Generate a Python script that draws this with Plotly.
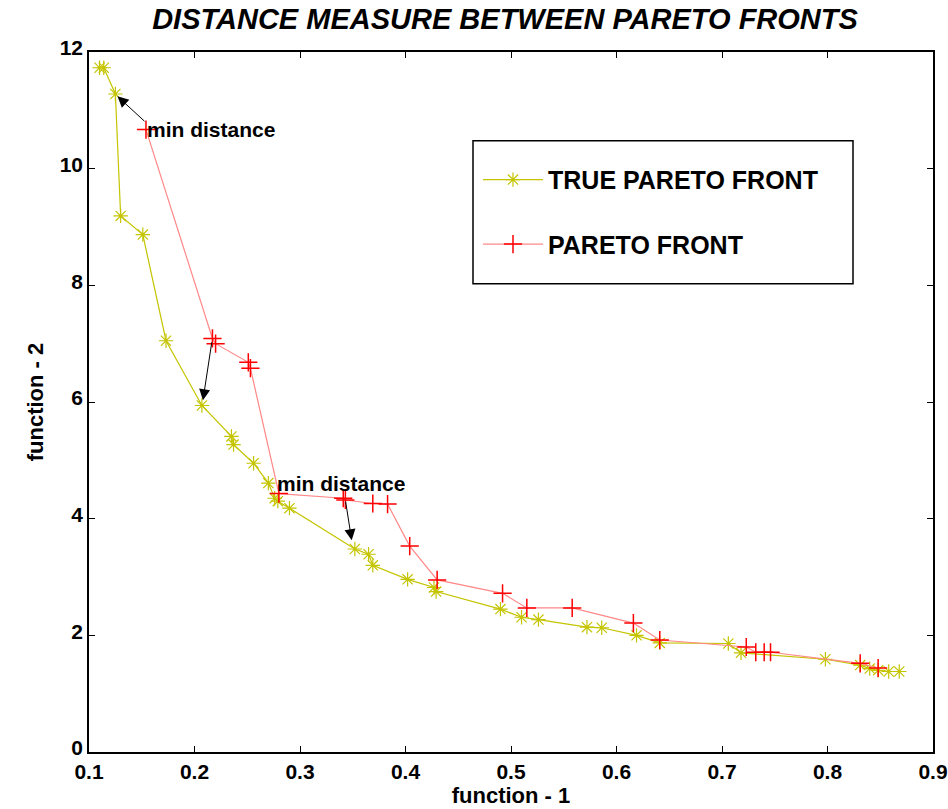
import plotly.graph_objects as go

true_x = [0.110, 0.114, 0.125, 0.130, 0.151, 0.173, 0.207, 0.235, 0.237, 0.256, 0.270, 0.276, 0.279, 0.290,
          0.352, 0.365, 0.369, 0.402, 0.427, 0.429, 0.490, 0.510, 0.526, 0.572, 0.586, 0.619, 0.641,
          0.706, 0.718, 0.798, 0.831, 0.840, 0.848, 0.858, 0.868]
true_y = [11.73, 11.73, 11.28, 9.19, 8.87, 7.05, 5.94, 5.41, 5.27, 4.95, 4.61, 4.35, 4.30, 4.18,
          3.48, 3.39, 3.20, 2.96, 2.82, 2.75, 2.45, 2.31, 2.27, 2.14, 2.13, 2.00, 1.87,
          1.86, 1.70, 1.59, 1.49, 1.43, 1.40, 1.38, 1.38]

pf_x = [0.154, 0.217, 0.220, 0.251, 0.253, 0.280, 0.341, 0.343, 0.369, 0.383, 0.404, 0.430, 0.492, 0.515,
        0.558, 0.616, 0.641, 0.723, 0.732, 0.740, 0.746, 0.831, 0.848]
pf_y = [10.67, 7.09, 7.00, 6.68, 6.58, 4.43, 4.35, 4.32, 4.26, 4.25, 3.53, 2.95, 2.72, 2.47,
        2.47, 2.21, 1.92, 1.80, 1.71, 1.71, 1.71, 1.52, 1.44]

x_ticks = [0.1, 0.2, 0.3, 0.4, 0.5, 0.6, 0.7, 0.8, 0.9]
y_ticks = [0, 2, 4, 6, 8, 10, 12]

# arrows: (tail_x, tail_y, head_x, head_y)
arrows = [(0.154, 10.79, 0.127, 11.24), (0.2166, 7.05, 0.208, 6.03), (0.343, 4.32, 0.349, 3.63)]
labels = [(0.153, 10.68, "min distance"), (0.276, 4.61, "min distance")]

FONT = "Liberation Sans, Arial, Helvetica"
fig = go.Figure()
fig.add_trace(go.Scatter(x=true_x, y=true_y, mode="lines+markers", name="<b>TRUE PARETO FRONT</b>",
                         legendgroup="a",
                         line=dict(color="#c4c400", width=1.2),
                         marker=dict(symbol="asterisk-open", size=12, color="#c4c400",
                                     line=dict(color="#c4c400", width=1.2))))
fig.add_trace(go.Scatter(x=pf_x, y=pf_y, mode="lines+markers", name="<b>PARETO FRONT</b>",
                         legendgroup="b",
                         line=dict(color="#ff8888", width=1.2),
                         marker=dict(symbol="cross-thin-open", size=13, color="#ff0000",
                                     line=dict(color="#ff0000", width=1.5))))

for tx, ty, hx, hy in arrows:
    fig.add_annotation(x=hx, y=hy, ax=tx, ay=ty, xref="x", yref="y", axref="x", ayref="y",
                       showarrow=True, arrowhead=2, arrowsize=2.2, arrowwidth=1, arrowcolor="black",
                       text="")
for lx, ly, t in labels:
    fig.add_annotation(x=lx, y=ly, xref="x", yref="y", text="<b>" + t + "</b>", showarrow=False,
                       xanchor="left", yanchor="middle",
                       font=dict(family=FONT, size=21, color="black"))

fig.add_shape(type="rect", xref="paper", yref="paper",
              x0=(473 - 89) / 844, x1=(853 - 89) / 844,
              y0=(752 - 283) / 701, y1=(752 - 140) / 701,
              line=dict(color="black", width=1.5), fillcolor="white", layer="below")

fig.update_layout(
    width=948, height=809,
    margin=dict(l=89, r=15, t=52, b=57, autoexpand=False),
    paper_bgcolor="white", plot_bgcolor="white",
    title=dict(text="<b><i>DISTANCE MEASURE BETWEEN PARETO FRONTS</i></b>", x=505 / 948, xanchor="center",
               y=1 - 19 / 809, yanchor="middle",
               font=dict(family=FONT, size=29, color="black")),
    legend=dict(x=(478 - 89) / 844, y=(752 - 156) / 701, xanchor="left", yanchor="top",
                bgcolor="rgba(0,0,0,0)", borderwidth=0, tracegroupgap=29,
                font=dict(family=FONT, size=25, color="black"),
                itemwidth=60),
    showlegend=True,
)
tickfont = dict(family=FONT, size=21, color="black")
fig.update_xaxes(range=[0.1, 0.9], tickvals=x_ticks, ticktext=[f"<b>{v:g}</b>" for v in x_ticks],
                 showgrid=False, zeroline=False, showline=True, mirror="ticks", linecolor="black",
                 linewidth=1.5, ticks="inside", ticklen=6, tickcolor="black", automargin=False,
                 tickfont=tickfont, ticklabeloverflow="allow",
                 title=dict(text="<b>function - 1</b>", standoff=4,
                            font=dict(family=FONT, size=22, color="black")))
fig.update_yaxes(range=[0, 12], tickvals=y_ticks, ticktext=[f"<b>{v}</b>" for v in y_ticks],
                 showgrid=False, zeroline=False, showline=True, automargin=False,
                 mirror="ticks", linecolor="black", linewidth=1.5, ticks="inside", ticklen=6,
                 tickcolor="black", tickfont=tickfont, ticklabelshift=-4,
                 title=dict(text="<b>function - 2</b>", standoff=10,
                            font=dict(family=FONT, size=22, color="black")))
fig.write_html("out.html")
